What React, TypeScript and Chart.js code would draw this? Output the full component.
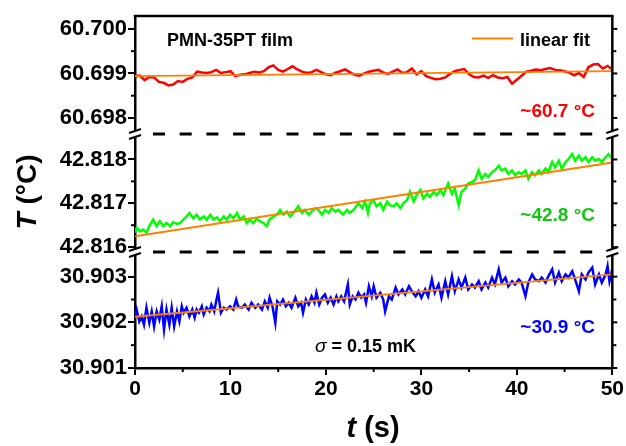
import React, { useEffect, useRef } from 'react';
import { Chart, registerables } from 'chart.js';

Chart.register(...registerables);

// ---------- axis ticks ----------
const xTicks = [0, 10, 20, 30, 40, 50];
const xMinorTicks = [5, 15, 25, 35, 45];
const topTicks = [60.698, 60.699, 60.7];
const topMinorTicks = [60.6985, 60.6995];
const midTicks = [42.816, 42.817, 42.818];
const midMinorTicks = [42.8165, 42.8175];
const botTicks = [30.901, 30.902, 30.903];
const botMinorTicks = [30.9015, 30.9025];

// visible range of each broken-axis panel
const topRange = [60.69764, 60.70029];
const midRange = [42.81589, 42.81858];
const botRange = [30.901, 30.90354];

// ---------- series: [t (s), T (°C)] ----------
const redSeries: number[][] = [
  [0, 60.69894], [0.5, 60.69895], [1, 60.69885], [1.5, 60.69892], [2, 60.69891], [2.5, 60.69881],
  [3, 60.69879], [3.5, 60.69873], [4, 60.69875], [4.5, 60.69883], [5, 60.69881], [5.5, 60.69888],
  [6, 60.69891], [6.5, 60.69904], [7, 60.69902], [7.5, 60.69901], [8, 60.69903], [8.5, 60.69908],
  [9, 60.69901], [9.5, 60.69903], [10, 60.69905], [10.5, 60.69894], [11, 60.69897], [11.5, 60.69898],
  [12, 60.69901], [12.5, 60.69904], [13, 60.69902], [13.5, 60.69905], [14, 60.69914], [14.5, 60.69918],
  [15, 60.69908], [15.5, 60.69904], [16, 60.6991], [16.5, 60.69916], [17, 60.69909], [17.5, 60.69904],
  [18, 60.69901], [18.5, 60.69903], [19, 60.69908], [19.5, 60.69903], [20, 60.69898], [20.5, 60.69896],
  [21, 60.69902], [21.5, 60.69905], [22, 60.69909], [22.5, 60.69903], [23, 60.69897], [23.5, 60.69895],
  [24, 60.699], [24.5, 60.69904], [25, 60.69906], [25.5, 60.69908], [26, 60.69902], [26.5, 60.69899],
  [27, 60.69904], [27.5, 60.69909], [28, 60.69901], [28.5, 60.69903], [29, 60.69911], [29.5, 60.69898],
  [30, 60.69905], [30.5, 60.69894], [31, 60.6989], [31.5, 60.69887], [32, 60.69888], [32.5, 60.69891],
  [33, 60.69899], [33.5, 60.69905], [34, 60.69908], [34.5, 60.6991], [35, 60.69898], [35.5, 60.69892],
  [36, 60.69891], [36.5, 60.69895], [37, 60.6989], [37.5, 60.69896], [38, 60.69891], [38.5, 60.69889],
  [39, 60.69892], [39.5, 60.69877], [40, 60.69886], [40.5, 60.69895], [41, 60.69904], [41.5, 60.69906],
  [42, 60.69909], [42.5, 60.69907], [43, 60.6991], [43.5, 60.69912], [44, 60.69908], [44.5, 60.69907],
  [45, 60.69905], [45.5, 60.69902], [46, 60.69896], [46.5, 60.69901], [47, 60.69892], [47.5, 60.69914],
  [48, 60.6992], [48.5, 60.69921], [49, 60.69911], [49.5, 60.69917], [50, 60.69909],
];
const redFit: number[][] = [[0, 60.69894], [50, 60.69905]];

const greenSeries: number[][] = [
  [0, 42.81633], [0.17, 42.81644], [0.52, 42.81636], [0.87, 42.8164], [1.2, 42.81633], [1.57, 42.81651],
  [1.9, 42.81663], [2.27, 42.81648], [2.6, 42.81659], [2.97, 42.81648], [3.3, 42.81655], [3.67, 42.81648],
  [4.0, 42.81657], [4.4, 42.81653], [4.7, 42.81655], [5.07, 42.81663], [5.4, 42.8167], [5.7, 42.81678],
  [6.1, 42.81666], [6.46, 42.81674], [6.8, 42.81663], [7.2, 42.8167], [7.5, 42.81663], [7.9, 42.81674],
  [8.2, 42.81663], [8.6, 42.81668], [8.9, 42.81659], [9.3, 42.8167], [9.6, 42.81663], [9.96, 42.81674],
  [10.3, 42.81666], [10.7, 42.81678], [11.0, 42.81663], [11.4, 42.8167], [11.7, 42.81655], [12.05, 42.81663],
  [12.4, 42.81655], [12.75, 42.81665], [13.1, 42.81659], [13.45, 42.81655], [13.8, 42.81648], [14.1, 42.81663],
  [14.5, 42.8167], [14.85, 42.81674], [15.2, 42.81685], [15.55, 42.81674], [15.9, 42.81681], [16.25, 42.8167],
  [16.6, 42.81678], [17.1, 42.81693], [17.5, 42.81678], [17.8, 42.81685], [18.2, 42.81674], [18.5, 42.81681],
  [18.9, 42.81689], [19.2, 42.81685], [19.6, 42.81674], [19.9, 42.81685], [20.3, 42.81678], [20.6, 42.81689],
  [21.0, 42.81681], [21.3, 42.81685], [21.8, 42.81674], [22.2, 42.81685], [22.5, 42.81678], [22.9, 42.81685],
  [23.4, 42.817], [23.8, 42.81689], [24.1, 42.81704], [24.4, 42.81678], [24.6, 42.817], [25.0, 42.81707],
  [25.3, 42.81693], [25.7, 42.817], [26.0, 42.81685], [26.4, 42.81704], [26.7, 42.81696], [27.1, 42.81693],
  [27.4, 42.817], [27.8, 42.81689], [28.1, 42.817], [28.5, 42.81707], [28.8, 42.81726], [29.2, 42.81704],
  [29.5, 42.81719], [29.9, 42.8173], [30.2, 42.81711], [30.6, 42.81722], [30.9, 42.81715], [31.3, 42.81726],
  [31.6, 42.81719], [32.0, 42.8173], [32.3, 42.81719], [32.8, 42.81745], [33.2, 42.81722], [33.5, 42.81734],
  [33.9, 42.81696], [34.2, 42.81726], [34.6, 42.81734], [34.9, 42.81745], [35.3, 42.81749], [35.6, 42.81752],
  [36.0, 42.81775], [36.3, 42.81756], [36.7, 42.81767], [37.0, 42.8176], [37.4, 42.81771], [37.7, 42.81775],
  [38.1, 42.81786], [38.4, 42.81775], [38.8, 42.81779], [39.1, 42.81767], [39.5, 42.81775], [39.8, 42.81764],
  [40.2, 42.81771], [40.5, 42.81767], [40.9, 42.81775], [41.2, 42.81756], [41.6, 42.81771], [41.9, 42.81764],
  [42.3, 42.81775], [42.6, 42.81767], [43.0, 42.81779], [43.3, 42.81771], [43.7, 42.81794], [44.0, 42.81782],
  [44.4, 42.81797], [44.7, 42.81779], [45.1, 42.81794], [45.4, 42.81801], [45.8, 42.81812], [46.1, 42.81797],
  [46.5, 42.81809], [46.8, 42.81797], [47.2, 42.81805], [47.5, 42.81794], [47.9, 42.81805], [48.2, 42.81797],
  [48.6, 42.81801], [48.9, 42.81794], [49.3, 42.81805], [49.6, 42.81812], [50.0, 42.81801],
];
const greenFit: number[][] = [[0, 42.81625], [50, 42.81793]];

const blueSeries: number[][] = [
  [0, 30.90213], [0.17, 30.90228], [0.45, 30.90202], [0.7, 30.90213], [0.94, 30.90195], [1.2, 30.90232],
  [1.5, 30.90199], [1.75, 30.90224], [2.0, 30.90191], [2.27, 30.90224], [2.55, 30.90206], [2.8, 30.90235],
  [3.04, 30.90184], [3.3, 30.90228], [3.6, 30.90195], [3.84, 30.90232], [4.1, 30.90191], [4.4, 30.90224],
  [4.65, 30.90202], [4.9, 30.90235], [5.1, 30.90221], [5.4, 30.90232], [5.7, 30.90213], [6.0, 30.90228],
  [6.25, 30.9021], [6.46, 30.90228], [6.7, 30.90221], [7.0, 30.90235], [7.2, 30.90217], [7.5, 30.90232],
  [7.8, 30.90224], [8.0, 30.90239], [8.3, 30.90224], [8.5, 30.90246], [8.7, 30.90265], [9.0, 30.90221],
  [9.3, 30.90232], [9.6, 30.90228], [9.96, 30.90235], [10.3, 30.90228], [10.6, 30.9025], [10.8, 30.90235],
  [11.2, 30.90232], [11.5, 30.90239], [11.9, 30.90228], [12.2, 30.90243], [12.6, 30.90232], [12.9, 30.90239],
  [13.3, 30.90228], [13.6, 30.90246], [13.9, 30.90232], [14.1, 30.90254], [14.4, 30.90235], [14.7, 30.90199],
  [14.9, 30.90246], [15.2, 30.90239], [15.5, 30.9025], [15.8, 30.90235], [16.1, 30.90243], [16.4, 30.90232],
  [16.8, 30.90254], [17.1, 30.90235], [17.4, 30.90243], [17.6, 30.90221], [17.9, 30.9025], [18.2, 30.90239],
  [18.5, 30.90257], [18.8, 30.90243], [19.0, 30.90265], [19.3, 30.90239], [19.6, 30.90254], [19.9, 30.90261],
  [20.2, 30.90243], [20.5, 30.90254], [20.8, 30.90239], [21.1, 30.90257], [21.3, 30.90246], [21.6, 30.90257],
  [21.9, 30.90246], [22.3, 30.90283], [22.5, 30.90239], [22.8, 30.90257], [23.1, 30.9025], [23.4, 30.90265],
  [23.7, 30.90254], [24.0, 30.90261], [24.2, 30.90243], [24.5, 30.90279], [24.8, 30.90257], [25.0, 30.90279],
  [25.3, 30.90254], [25.7, 30.90265], [26.0, 30.9025], [26.2, 30.90224], [26.6, 30.90257], [26.9, 30.9025],
  [27.3, 30.90276], [27.6, 30.90261], [28.0, 30.90272], [28.3, 30.90261], [28.7, 30.90279], [29.0, 30.90268],
  [29.4, 30.90257], [29.7, 30.90268], [30.0, 30.90254], [30.4, 30.90272], [30.7, 30.90257], [31.1, 30.90294],
  [31.4, 30.90265], [31.8, 30.90283], [32.1, 30.90254], [32.5, 30.9029], [32.8, 30.90261], [33.2, 30.90301],
  [33.5, 30.90268], [33.9, 30.90294], [34.2, 30.90276], [34.6, 30.90298], [34.9, 30.90272], [35.3, 30.90283],
  [35.6, 30.90276], [36.0, 30.9029], [36.3, 30.90272], [36.7, 30.90287], [37.0, 30.90276], [37.4, 30.90298],
  [37.7, 30.90283], [38.1, 30.90316], [38.4, 30.90287], [38.8, 30.90298], [39.1, 30.90279], [39.5, 30.9029],
  [39.8, 30.90283], [40.2, 30.90294], [40.5, 30.90287], [40.9, 30.90257], [41.2, 30.90287], [41.6, 30.90305],
  [41.9, 30.90294], [42.3, 30.9029], [42.6, 30.90298], [43.0, 30.90287], [43.3, 30.90301], [43.7, 30.90316],
  [44.0, 30.90287], [44.4, 30.90309], [44.7, 30.9029], [45.1, 30.90305], [45.4, 30.90298], [45.8, 30.90312],
  [46.1, 30.90294], [46.5, 30.90268], [46.8, 30.90305], [47.2, 30.90294], [47.5, 30.90309], [47.9, 30.9032],
  [48.2, 30.90283], [48.6, 30.90305], [48.9, 30.90287], [49.3, 30.90305], [49.5, 30.90323], [49.7, 30.9029],
  [50.0, 30.90316],
];
const blueFit: number[][] = [[0, 30.90212], [50, 30.90305]];

// ---------- styling ----------
const FAMILY = "'Liberation Sans', Arial, Helvetica, sans-serif";
const RED = '#ff0000';
const GREEN = '#00ff00';
const GREEN_TEXT = '#10c810';
const BLUE = '#0000ff';
const ORANGE = '#ff8000';

const toXY = (arr: number[][]) => arr.map(([x, y]) => ({ x, y }));

function drawParts(ctx: CanvasRenderingContext2D, parts: { text: string; font: string; color: string }[], x: number, y: number, align: 'left' | 'right' | 'center') {
  const widths = parts.map((p) => { ctx.font = p.font; return ctx.measureText(p.text).width; });
  const total = widths.reduce((a, b) => a + b, 0);
  let cx = align === 'left' ? x : align === 'right' ? x - total : x - total / 2;
  ctx.textAlign = 'left';
  ctx.textBaseline = 'alphabetic';
  parts.forEach((p, i) => {
    ctx.font = p.font;
    ctx.fillStyle = p.color;
    ctx.fillText(p.text, cx, y);
    cx += widths[i];
  });
}

const decorPlugin = {
  id: 'decor',
  afterDraw(chart: any) {
    const ctx: CanvasRenderingContext2D = chart.ctx;
    const { left, right, top, bottom } = chart.chartArea;
    const sx = chart.scales.x;
    const sTop = chart.scales.yTop;
    const sMid = chart.scales.yMid;
    const sBot = chart.scales.yBot;
    const line = (x1: number, y1: number, x2: number, y2: number) => {
      ctx.beginPath(); ctx.moveTo(x1, y1); ctx.lineTo(x2, y2); ctx.stroke();
    };
    ctx.save();
    ctx.strokeStyle = '#000';
    ctx.lineWidth = 2.5;
    ctx.lineCap = 'butt';
    // top and right frame
    line(left - 1.25, top, right + 1.25, top);
    line(right, top, right, bottom + 1.25);

    ctx.lineWidth = 2;
    // minor ticks on left, all ticks on right
    const panels: [any, number[], number[]][] = [
      [sTop, topTicks, topMinorTicks],
      [sMid, midTicks, midMinorTicks],
      [sBot, botTicks, botMinorTicks],
    ];
    panels.forEach(([s, major, minor]) => {
      minor.forEach((v) => { const y = s.getPixelForValue(v); line(left - 4, y, left, y); line(right, y, right + 4, y); });
      major.forEach((v) => { const y = s.getPixelForValue(v); line(right, y, right + 5, y); });
    });
    xMinorTicks.forEach((v) => { const x = sx.getPixelForValue(v); line(x, bottom, x, bottom + 4); });

    // dashed break lines
    const breaks = [sTop.bottom, sMid.bottom];
    ctx.lineWidth = 3;
    ctx.setLineDash([12, 14.7]);
    breaks.forEach((yb) => line(left + 18, yb, right - 20, yb));
    ctx.setLineDash([]);

    // break marks on both axes
    breaks.forEach((yb) => {
      [left, right].forEach((xa) => {
        ctx.fillStyle = '#fff';
        ctx.fillRect(xa - 2, yb - 3, 4, 6);
        ctx.lineWidth = 2;
        line(xa - 6, yb - 1, xa + 6, yb - 5);
        line(xa - 6, yb + 5, xa + 6, yb + 1);
      });
    });

    // texts
    const bold = (s: number) => `bold ${s}px ${FAMILY}`;
    const boldItalic = (s: number) => `italic bold ${s}px ${FAMILY}`;
    drawParts(ctx, [{ text: 'PMN-35PT film', font: bold(18), color: '#000' }], 167, 46, 'left');
    ctx.strokeStyle = ORANGE; ctx.lineWidth = 2;
    line(472, 38.5, 513, 38.5);
    drawParts(ctx, [{ text: 'linear fit', font: bold(18), color: '#000' }], 520, 46, 'left');
    drawParts(ctx, [{ text: '~60.7 °C', font: bold(19), color: RED }], 595, 117, 'right');
    drawParts(ctx, [{ text: '~42.8 °C', font: bold(19), color: GREEN_TEXT }], 595, 221, 'right');
    drawParts(ctx, [{ text: '~30.9 °C', font: bold(19), color: BLUE }], 595, 333, 'right');
    drawParts(ctx, [
      { text: 'σ', font: `italic 19px ${FAMILY}`, color: '#000' },
      { text: ' = 0.15 mK', font: bold(18), color: '#000' },
    ], 315, 352, 'left');
    // axis titles
    drawParts(ctx, [
      { text: 't', font: boldItalic(29), color: '#000' },
      { text: ' (s)', font: bold(29), color: '#000' },
    ], 373, 437, 'center');
    ctx.save();
    ctx.translate(36, 192);
    ctx.rotate(-Math.PI / 2);
    drawParts(ctx, [
      { text: 'T', font: boldItalic(28), color: '#000' },
      { text: ' (°C)', font: bold(28), color: '#000' },
    ], 0, 0, 'center');
    ctx.restore();
    ctx.restore();
  },
};

function yScale(range: number[], ticks: number[], weight: number) {
  return {
    type: 'linear',
    position: 'left',
    stack: 'temperature',
    stackWeight: weight,
    min: range[0],
    max: range[1],
    afterBuildTicks: (s: any) => { s.ticks = ticks.map((v) => ({ value: v })); },
    afterFit: (s: any) => { s.width = 135; },
    ticks: {
      color: '#000',
      padding: 1,
      font: { family: FAMILY, size: 22, weight: 'bold' },
      callback: (v: number) => Number(v).toFixed(3),
    },
    grid: { display: true, drawOnChartArea: false, drawTicks: true, tickLength: 7, lineWidth: 2, color: '#000' },
    border: { display: true, width: 2.5, color: '#000' },
  };
}

export default function App() {
  const ref = useRef<HTMLCanvasElement>(null);
  useEffect(() => {
    if (!ref.current) return;
    const lineDs = (data: number[][], color: string, axis: string, width: number, order: number) => ({
      data: toXY(data),
      borderColor: color,
      backgroundColor: color,
      borderWidth: width,
      pointRadius: 0,
      tension: 0,
      fill: false,
      xAxisID: 'x',
      yAxisID: axis,
      order,
    });
    const chart = new Chart(ref.current, {
      type: 'line',
      data: {
        datasets: [
          lineDs(redFit, ORANGE, 'yTop', 1.8, 0),
          lineDs(greenFit, ORANGE, 'yMid', 2, 0),
          lineDs(blueFit, ORANGE, 'yBot', 2, 0),
          lineDs(redSeries, RED, 'yTop', 2.5, 1),
          lineDs(greenSeries, GREEN, 'yMid', 2.5, 1),
          lineDs(blueSeries, BLUE, 'yBot', 2.5, 1),
        ] as any,
      },
      options: {
        responsive: false,
        devicePixelRatio: 1,
        animation: false,
        layout: { padding: { top: 16, right: 13, left: 0, bottom: 0 } },
        plugins: { legend: { display: false }, tooltip: { enabled: false }, title: { display: false } },
        scales: {
          x: {
            type: 'linear',
            position: 'bottom',
            min: 0,
            max: 50,
            afterBuildTicks: (s: any) => { s.ticks = xTicks.map((v) => ({ value: v })); },
            afterFit: (s: any) => { s.height = 78; },
            ticks: {
              color: '#000',
              padding: 2,
              maxRotation: 0,
              font: { family: FAMILY, size: 21, weight: 'bold' },
              callback: (v: number) => String(v),
            },
            grid: { display: true, drawOnChartArea: false, drawTicks: true, tickLength: 7, lineWidth: 2, color: '#000' },
            border: { display: true, width: 2.5, color: '#000' },
          },
          yBot: yScale(botRange, botTicks, 116),
          yMid: yScale(midRange, midTicks, 118),
          yTop: yScale(topRange, topTicks, 118),
        } as any,
      },
      plugins: [decorPlugin as any],
    });
    return () => chart.destroy();
  }, []);
  return (
    <div style={{ position: 'absolute', left: 0, top: 0, width: 626, height: 446, background: '#fff' }}>
      <canvas ref={ref} width={626} height={446} style={{ display: 'block', width: 626, height: 446 }} />
    </div>
  );
}
